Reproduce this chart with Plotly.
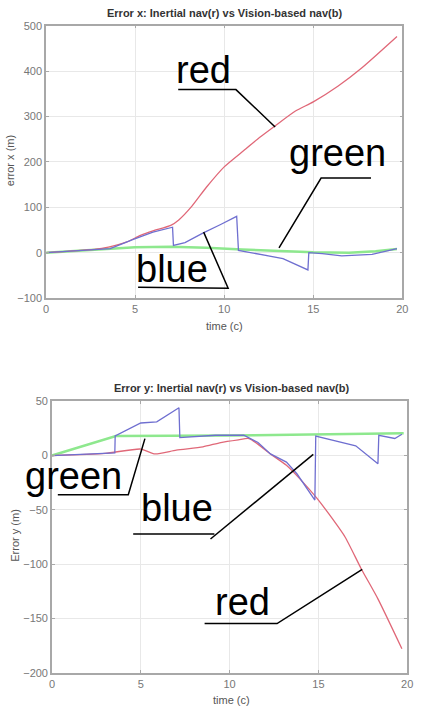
import plotly.graph_objects as go

W, H = 424, 718

# ---- top panel: error x ----
tx_red = [0, 1.2, 2.7, 3.5, 4.5, 5.3, 6, 7, 7.45, 8.2, 9, 10, 11.1, 12, 12.85, 14, 15, 16.4, 17.7, 19.7]
ex_red = [0, 3, 7, 12, 23, 38, 48, 60, 72, 103, 144, 189, 225, 254, 279, 312, 332, 367, 406, 476]

tx_blue = [0, 1.2, 2.7, 3.6, 4.9, 6, 7.1, 7.15, 7.8, 8.8, 9.8, 10.7, 10.8, 12, 13.3, 14.7, 14.75, 15.5, 16.6, 18.3, 19.7]
ex_blue = [0, 3, 6, 9, 29, 45, 56, 16, 22, 43, 62, 80, 5, -4, -13, -38, 0, -2, -7, -4, 9]

tx_green = [0, 3, 5, 7, 9, 11, 13, 15, 17, 18.5, 19.7]
ex_green = [0, 8, 12, 13, 11, 7, 4, 1, 0, 3, 8]

# ---- bottom panel: error y ----
ty_red = [0, 3, 5, 5.8, 7, 8.5, 9.5, 10.5, 11.1, 12.3, 13.2, 14.1, 14.9, 15.6, 16.5, 17.4, 18.35, 19.7]
ey_red = [0, 2, 6, 1.5, 5, 8, 12, 14.5, 15.7, 1.5, -9, -24, -39, -54, -75, -104, -132, -178]

ty_blue = [0, 3, 3.54, 3.56, 5, 5.9, 7.15, 7.2, 9.2, 10.8, 11.6, 12.3, 13.2, 13.8, 14.8, 14.85,
           15.6, 17.1, 18.35, 18.4, 19.3, 19.7]
ey_blue = [0, 2, 2.5, 18, 30, 31, 44, 16.5, 18.7, 18.7, 12, 1.5, -6, -17, -41, 18,
           15, 9, -7.5, 18.7, 15.7, 19.6]

ty_green = [0, 3.6, 10, 19.8]
ey_green = [0, 18, 18.5, 20.5]

RED, BLUE, GREEN = "#E06878", "#6F6FD0", "#8EE88E"


def px(x):
    return x / W


def py(y):
    return 1 - y / H


fig = go.Figure()
fig.add_trace(go.Scatter(x=tx_green, y=ex_green, mode="lines", line=dict(color=GREEN, width=2.5),
                         xaxis="x", yaxis="y"))
fig.add_trace(go.Scatter(x=tx_red, y=ex_red, mode="lines", line=dict(color=RED, width=1.3, shape="spline", smoothing=0.6),
                         xaxis="x", yaxis="y"))
fig.add_trace(go.Scatter(x=tx_blue, y=ex_blue, mode="lines", line=dict(color=BLUE, width=1.3),
                         xaxis="x", yaxis="y"))

fig.add_trace(go.Scatter(x=ty_green, y=ey_green, mode="lines", line=dict(color=GREEN, width=2.5),
                         xaxis="x2", yaxis="y2"))
fig.add_trace(go.Scatter(x=ty_red, y=ey_red, mode="lines", line=dict(color=RED, width=1.3, shape="spline", smoothing=0.6),
                         xaxis="x2", yaxis="y2"))
fig.add_trace(go.Scatter(x=ty_blue, y=ey_blue, mode="lines", line=dict(color=BLUE, width=1.3),
                         xaxis="x2", yaxis="y2"))

axis_common = dict(showline=True, mirror="ticks", linecolor="#a8a8a8", linewidth=1.5,
                   showgrid=True, gridcolor="#e8e8e8", zeroline=False,
                   ticks="inside", ticklen=3, tickcolor="#a8a8a8",
                   tickfont=dict(family="Liberation Sans, Arial", size=11, color="#777777"))

fig.update_layout(
    width=W, height=H, showlegend=False,
    paper_bgcolor="white", plot_bgcolor="white",
    margin=dict(l=0, r=0, t=0, b=0),
    xaxis=dict(domain=[px(44), px(408)], range=[0, 20], dtick=5, anchor="y", **axis_common),
    yaxis=dict(domain=[py(297), py(20)], range=[-100, 500], dtick=100, anchor="x", **axis_common),
    xaxis2=dict(domain=[px(50), px(413)], range=[0, 20], dtick=5, anchor="y2", **axis_common),
    yaxis2=dict(domain=[py(678), py(402)], range=[-200, 50], dtick=50, anchor="x2", **axis_common),
)

small = dict(family="Liberation Sans, Arial", size=11, color="#555555")
title_font = dict(family="Liberation Sans, Arial", size=11, color="#333333")
big = dict(family="Liberation Sans, Arial", size=38, color="black")

texts = [
    ("<b>Error x: Inertial nav(r) vs Vision-based nav(b)</b>", 226, 7, title_font, "center", 0),
    ("<b>Error y: Inertial nav(r) vs Vision-based nav(b)</b>", 233, 389, title_font, "center", 0),
    ("time (c)", 226, 325, small, "center", 0),
    ("time (c)", 233, 706, small, "center", 0),
    ("error x (m)", 8, 157, small, "center", -90),
    ("Error y (m)", 12, 538, small, "center", -90),
    ("red", 175, 65, big, "left", 0),
    ("green", 290, 150, big, "left", 0),
    ("blue", 134, 267, big, "left", 0),
    ("green", 20, 478, big, "left", 0),
    ("blue", 139, 511, big, "left", 0),
    ("red", 215, 606, big, "left", 0),
]
for txt, x, y, f, anc, ang in texts:
    fig.add_annotation(text=txt, x=px(x), y=py(y), xref="paper", yref="paper",
                       xanchor=anc, yanchor="middle", showarrow=False, font=f, textangle=ang)

# underline + leader lines for the hand-drawn labels
pointers = [
    [(179, 85), (238, 85), (278, 123)],
    [(376, 175), (325, 175), (282, 246)],
    [(138, 286), (230, 287), (205, 230)],
    [(56, 497), (128, 497), (145, 440)],
    [(133, 537), (216, 537)],
    [(212, 542), (317, 456)],
    [(206, 628), (280, 628), (367, 573)],
]
for pts in pointers:
    path = "M " + " L ".join(f"{px(a):.4f},{py(b):.4f}" for a, b in pts)
    fig.add_shape(type="path", path=path, xref="paper", yref="paper",
                  line=dict(color="black", width=1.5))

fig.write_html("out.html", config={"displayModeBar": False},
               post_script="document.body.style.margin='0';document.body.style.overflow='hidden';")
